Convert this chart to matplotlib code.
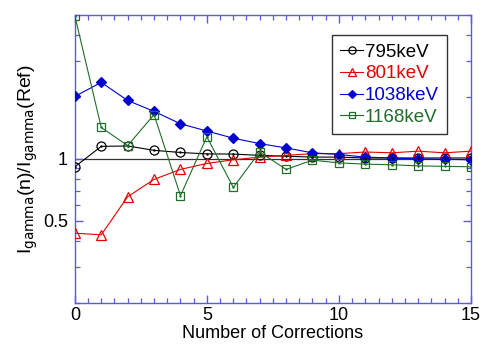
import numpy as np
import matplotlib
matplotlib.use("Agg")
import matplotlib.pyplot as plt
from matplotlib.ticker import FixedLocator, NullFormatter, MultipleLocator, LogLocator

plt.rcParams["font.family"] = ["Liberation Sans", "DejaVu Sans"]

# ── Data ──────────────────────────────────────────────────────────────
n_corr = list(range(16))
labels = ["795keV", "801keV", "1038keV", "1168keV"]
y795 = [0.915, 1.15, 1.155, 1.10, 1.074, 1.057, 1.055, 1.04, 1.03, 1.02,
        1.02, 1.01, 1.01, 1.01, 1.01, 1.01]
y801 = [0.436, 0.428, 0.655, 0.795, 0.889, 0.95, 0.99, 1.02, 1.04, 1.06,
        1.06, 1.08, 1.07, 1.09, 1.07, 1.09]
y1038 = [2.01, 2.35, 1.92, 1.70, 1.48, 1.365, 1.26, 1.186, 1.13, 1.07,
         1.05, 1.02, 1.01, 1.0, 0.995, 0.99]
y1168 = [4.95, 1.42, 1.16, 1.64, 0.663, 1.28, 0.727, 1.08, 0.889, 0.986,
         0.956, 0.943, 0.936, 0.925, 0.92, 0.915]

fig = plt.figure(figsize=(4.86, 3.45), dpi=100)
ax = fig.add_axes([0.154, 0.122, 0.815, 0.835])

ax.axhline(1.0, color="#333333", lw=0.9, zorder=1)

styles = [
    (y795, "k", "o", "none", 6.5),
    (y801, "#e60000", "^", "none", 7),
    (y1038, "#0000d0", "D", "#0000d0", 5.5),
    (y1168, "#1f6e2a", "s", "none", 6),
]
for (ys, col, mk, fc, ms), lab in zip(styles, labels):
    ax.plot(n_corr, ys, color=col, lw=0.8, marker=mk, ms=ms, mfc=fc,
            mec=col, mew=0.9, label=lab, zorder=3)
    if fc == "none" and mk != "^":
        ax.plot(n_corr, ys, ls="none", marker=".", ms=1.5, color=col, zorder=4)

ax.set_yscale("log")
ax.set_xlim(0, 15)
ax.set_ylim(0.2, 5)
ax.yaxis.set_major_locator(FixedLocator([0.5, 1]))
ax.yaxis.set_major_formatter(matplotlib.ticker.FixedFormatter(["0.5", "1"]))
ax.yaxis.set_minor_locator(LogLocator(base=10, subs=np.arange(1, 10)))
ax.yaxis.set_minor_formatter(NullFormatter())
ax.xaxis.set_major_locator(MultipleLocator(5))
ax.xaxis.set_minor_locator(MultipleLocator(0.5))

spine_col = "#5a5ae6"
for s in ax.spines.values():
    s.set_color(spine_col)
    s.set_linewidth(1.0)
ax.tick_params(which="both", direction="in", top=True, right=True,
               color=spine_col, labelsize=13)
ax.tick_params(axis="x", pad=3)
ax.tick_params(axis="y", pad=5)
ax.tick_params(which="major", length=6, width=1.0)
ax.tick_params(which="minor", length=3.5, width=0.9)

ax.set_xlabel("Number of Corrections", fontsize=13, labelpad=1)
ax.set_ylabel(r"I$_{\rm gamma}$(n)/I$_{\rm gamma}$(Ref)", fontsize=14, labelpad=2)

leg = ax.legend(loc="upper right", bbox_to_anchor=(0.94, 0.93), fontsize=13.5,
                frameon=True, fancybox=False, edgecolor="k", handlelength=1.2,
                handletextpad=0.1, borderpad=0.45, borderaxespad=0,
                labelspacing=0.25, markerscale=0.8)
leg.get_frame().set_linewidth(1.0)
for txt, (_, col, _, _, _) in zip(leg.get_texts(), styles):
    txt.set_color(col)

fig.savefig("out.png", dpi=100)
